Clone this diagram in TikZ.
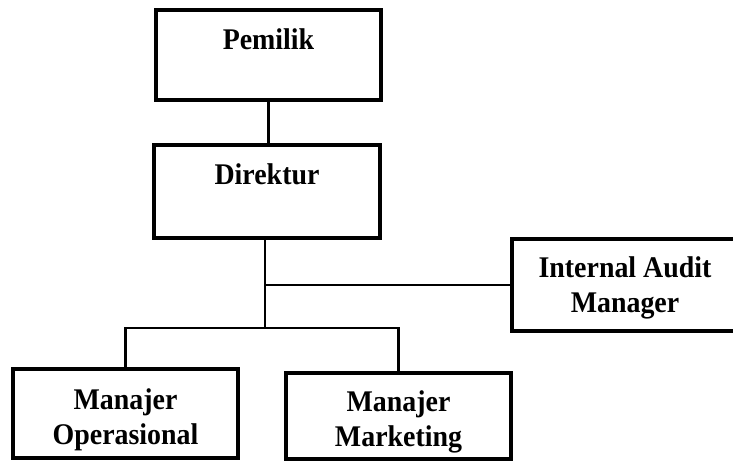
\documentclass[tikz,border=0pt]{standalone}
\usepackage{fontspec}
\setmainfont{Liberation Serif}
\newfontfamily\chartfont[FakeStretch=0.93]{Liberation Serif}
\usetikzlibrary{calc}
\begin{document}
\begin{tikzpicture}[x=1pt,y=-1pt,
  orgbox/.style={draw=black, line width=3.4pt, rectangle, inner sep=0pt},
  boxtext/.style={font=\chartfont\fontsize{30}{35}\selectfont\bfseries, align=center, anchor=base, inner sep=0pt},
  link/.style={draw=black, line width=2.8pt}]
  \useasboundingbox (0,0) rectangle (733,461);

  % boxes of the organisation chart
  \node[orgbox, minimum width=225pt, minimum height=90pt] (pem) at (268.5,55) {};
  \node[orgbox, minimum width=226pt, minimum height=93pt] (dir) at (267,191.5) {};
  \node[orgbox, minimum width=226pt, minimum height=92pt] (ia)  at (625,285) {};
  \node[orgbox, minimum width=225pt, minimum height=89pt] (mo)  at (125.5,413.5) {};
  \node[orgbox, minimum width=225pt, minimum height=86pt] (mm)  at (398.5,416) {};

  % box titles (base anchor sits on the last line)
  \node[boxtext] (tpem) at ($(pem.north)+(0,41)$) {Pemilik};
  \node[boxtext] (tdir) at ($(dir.north)+(0,41)$) {Direktur};
  \node[boxtext] (tia)  at ($(ia.north)+(0,75)$)  {Internal Audit\\Manager};
  \node[boxtext] (tmo)  at ($(mo.north)+(0,77)$)  {Manajer\\Operasional};
  \node[boxtext] (tmm)  at ($(mm.north)+(0,75)$)  {Manajer\\Marketing};

  % junction points of the connectors
  \coordinate (hub) at (265,328);
  \coordinate (tap) at (265,285);

  % connectors
  \draw[link] (pem.south) -- (pem.south |- dir.north);
  \draw[link] (dir.south -| hub) -- (hub);
  \draw[link] (tap) -- (ia.west);
  \draw[link] (mo.north) |- (hub) -| (mm.north);
\end{tikzpicture}
\end{document}
